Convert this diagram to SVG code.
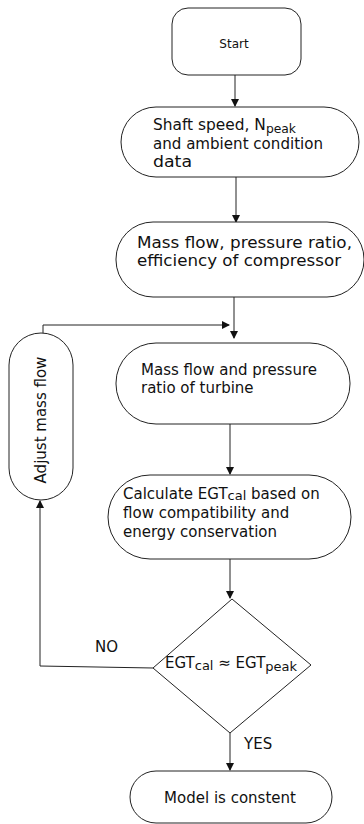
<svg xmlns="http://www.w3.org/2000/svg" width="364" height="824" viewBox="0 0 364 824">
<style>
.box{fill:#fff;stroke:#222;stroke-width:1}
.t{font-family:"DejaVu Sans",sans-serif;font-size:15px;fill:#111}
.s{font-family:"DejaVu Sans",sans-serif;font-size:12px;fill:#111}
.c{fill:none;stroke:#222;stroke-width:1}
</style>
<defs>
<marker id="ah" markerWidth="8" markerHeight="8" refX="7" refY="4" orient="auto" markerUnits="userSpaceOnUse">
<path d="M0,0 L8,4 L0,8 Z" fill="#111"/>
</marker>
</defs>
<rect width="364" height="824" fill="#fff"/>
<g id="connectors">
<line class="c" x1="235" y1="75" x2="235" y2="106" marker-end="url(#ah)"/>
<line class="c" x1="236" y1="177" x2="236" y2="222" marker-end="url(#ah)"/>
<line class="c" x1="234" y1="297" x2="234" y2="338" marker-end="url(#ah)"/>
<polyline class="c" points="43,333 43,325 229,325" marker-end="url(#ah)"/>
<line class="c" x1="230" y1="424" x2="230" y2="474" marker-end="url(#ah)"/>
<line class="c" x1="230" y1="559" x2="230" y2="598" marker-end="url(#ah)"/>
<polyline class="c" points="153,668 40,666 40,501" marker-end="url(#ah)"/>
<line class="c" x1="230" y1="733" x2="230" y2="770" marker-end="url(#ah)"/>
<text class="t" x="95" y="652" font-size="14">NO</text>
<text class="t" x="244" y="749">YES</text>
</g>
<g id="start">
<rect class="box" x="172" y="8" width="129" height="67" rx="16"/>
<text class="s" x="234" y="48" text-anchor="middle">Start</text>
</g>
<g id="shaft">
<rect class="box" x="121" y="107" width="238" height="70" rx="35"/>
<text class="t" x="153" y="130" textLength="143" lengthAdjust="spacingAndGlyphs">Shaft speed, N<tspan font-size="12" dy="3">peak</tspan></text>
<text class="t" x="153" y="149" textLength="170" lengthAdjust="spacingAndGlyphs">and ambient condition</text>
<text class="t" x="153" y="167" textLength="39" lengthAdjust="spacingAndGlyphs">data</text>
</g>
<g id="compressor">
<rect class="box" x="116" y="222" width="248" height="75" rx="37"/>
<text class="t" x="137" y="248" textLength="215" lengthAdjust="spacingAndGlyphs">Mass flow, pressure ratio,</text>
<text class="t" x="137" y="266" textLength="204" lengthAdjust="spacingAndGlyphs">efficiency of compressor</text>
</g>
<g id="turbine">
<rect class="box" x="116" y="343" width="234" height="81" rx="40"/>
<text class="t" x="141" y="375">Mass flow and pressure</text>
<text class="t" x="141" y="393">ratio of turbine</text>
</g>
<g id="adjust">
<rect class="box" x="9" y="333" width="64" height="167" rx="32"/>
<text class="t" font-size="14.5" transform="translate(46,420) rotate(-90)" text-anchor="middle">Adjust mass flow</text>
</g>
<g id="calculate">
<rect class="box" x="108" y="475" width="243" height="84" rx="42"/>
<text class="t" x="123" y="499">Calculate EGT<tspan font-size="13" dy="1">cal</tspan><tspan dy="-1"> based on</tspan></text>
<text class="t" x="123" y="518">flow compatibility and</text>
<text class="t" x="123" y="537">energy conservation</text>
</g>
<g id="decision">
<polygon class="box" points="232,599 311,665 230,733 153,668"/>
<text class="t" font-size="16" x="165" y="668">EGT<tspan font-size="13" dy="2">cal</tspan><tspan dy="-2"> ≈ EGT</tspan><tspan font-size="13" dy="3">peak</tspan></text>
</g>
<g id="model">
<rect class="box" x="130" y="771" width="202" height="52" rx="26"/>
<text class="t" x="230" y="803" text-anchor="middle">Model is constent</text>
</g>
</svg>
